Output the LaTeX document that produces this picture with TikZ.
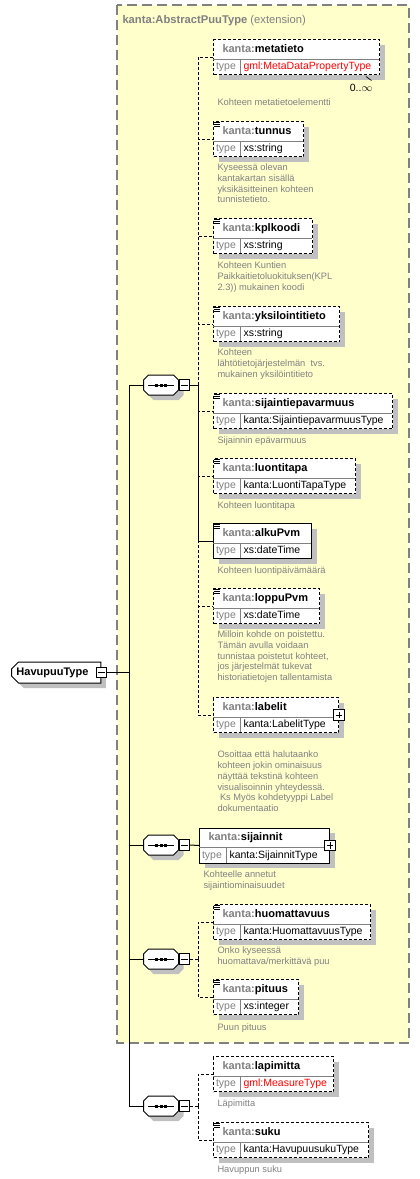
\documentclass[tikz,border=0pt]{standalone}
\usepackage{fontspec}
\setmainfont{Liberation Sans}
\usepackage{tikz}
\usetikzlibrary{shapes.misc, shadows}
\definecolor{extFill}{RGB}{255,255,204}
\definecolor{extLine}{RGB}{128,128,128}
\definecolor{shadeGray}{RGB}{192,192,192}
\definecolor{txtGray}{RGB}{128,128,128}

\begin{document}
\begin{tikzpicture}[x=1pt, y=-1pt, line width=1pt,
    optline/.style={dash pattern=on 3pt off 2pt},
    boxshadow/.style={drop shadow={shadow xshift=5pt, shadow yshift=-5pt, fill=shadeGray, opacity=1}},
    reqbox/.style={draw, fill=white, anchor=north west, minimum height=35pt, inner sep=0pt, boxshadow},
    optbox/.style={reqbox, optline},
    divline/.style={draw=txtGray, solid, line width=0.8pt},
    namelbl/.style={anchor=base west, inner sep=0pt, font=\fontsize{11}{13}\selectfont\bfseries},
    typelbl/.style={anchor=base west, inner sep=0pt, font=\fontsize{10.5}{12}\selectfont},
    doclbl/.style={anchor=north west, inner sep=0pt, align=left, text=txtGray,
        font=\fontsize{9.3}{10.75}\selectfont, execute at begin node=\strut},
    seqarea/.style={minimum width=34pt, minimum height=19pt, inner sep=0pt},
    minusbox/.style={draw, fill=white, solid, minimum size=10.5pt, inner sep=0pt,
        path picture={\draw[line width=0.8pt] ([xshift=2pt]path picture bounding box.west) -- ([xshift=-2pt]path picture bounding box.east);}},
    plusbox/.style={draw, fill=white, solid, minimum size=10.5pt, inner sep=0pt,
        path picture={\draw[line width=0.8pt] ([xshift=2pt]path picture bounding box.west) -- ([xshift=-2pt]path picture bounding box.east)
            ([yshift=-2pt]path picture bounding box.north) -- ([yshift=2pt]path picture bounding box.south);}},
    hvtype/.style={chamfered rectangle, chamfered rectangle corners={north west, south west},
        chamfered rectangle xsep=3.5pt, draw, fill=white, anchor=west,
        minimum height=21pt, inner sep=0pt, boxshadow, font=\fontsize{11}{13}\selectfont\bfseries}
]

\useasboundingbox (0,0) rectangle (420,1179);

% Extension frame
\filldraw[fill=extFill, draw=extLine, line width=1.3pt, dash pattern=on 10pt off 5pt]
    (117,5) rectangle (409,1043);
\node[anchor=base west, inner sep=0pt, text=txtGray, font=\fontsize{11.2}{13}\selectfont] (exttitle)
    at (122,23) {\textbf{kanta:AbstractPuuType} (extension)};

% Complex type
\node[hvtype] (hv) at (11,672.5) {\hspace*{1.5pt}HavupuuType\hspace*{9pt}};
\node[minusbox] (hvm) at (hv.east) {};

% Sequences
\foreach \s/\y in {s1/385, s2/845, s3/959, s4/1106} {
    \node[seqarea] (\s) at (161,\y) {};
    \filldraw[fill=white, boxshadow]
        ([xshift=5pt]\s.north west) -- ([xshift=-5pt]\s.north east) -- ([yshift=-5pt]\s.north east)
        -- ([yshift=5pt]\s.south east) -- ([xshift=-5pt]\s.south east) -- ([xshift=5pt]\s.south west)
        -- ([yshift=5pt]\s.south west) -- ([yshift=-5pt]\s.north west) -- cycle;
    \draw ([xshift=4.5pt]\s.west) -- ([xshift=-4.5pt]\s.east);
    \foreach \d in {-4.5,0,4.5}
        \fill ([xshift=\d pt]\s.center) +(-1.5,-1.5) rectangle +(1.5,1.5);
    \node[minusbox, anchor=west] (\s m) at (\s.east) {};
}

% Elements
\foreach \nm/\x/\y/\w/\ty/\tc/\st/\db/\dc in {
    metatieto/213/39/166/gml:MetaDataPropertyType/red/optbox/66/{Kohteen metatietoelementti},
    tunnus/213/121/90/xs:string/black/optbox/50/{Kyseessä olevan\\kantakartan sisällä\\yksikäsitteinen kohteen\\tunnistetieto.},
    kplkoodi/213/218/99/xs:string/black/optbox/51/{Kohteen Kuntien\\Paikkaitietoluokituksen(KPL\\2.3)) mukainen koodi},
    yksilointitieto/213/306/126/xs:string/black/optbox/50/{Kohteen\\lähtötietojärjestelmän\ \ tvs.\\mukainen yksilöintitieto},
    sijaintiepavarmuus/213/393/179/kanta:SijaintiepavarmuusType/black/optbox/50/{Sijainnin epävarmuus},
    luontitapa/213/458/142/kanta:LuontiTapaType/black/optbox/50/{Kohteen luontitapa},
    alkuPvm/213/523/98/xs:dateTime/black/reqbox/50/{Kohteen luontipäivämäärä},
    loppuPvm/213/588/106/xs:dateTime/black/optbox/50/{Milloin kohde on poistettu.\\Tämän avulla voidaan\\tunnistaa poistetut kohteet,\\jos järjestelmät tukevat\\historiatietojen tallentamista},
    labelit/213/697/125/kanta:LabelitType/black/optbox/61/{Osoittaa että halutaanko\\kohteen jokin ominaisuus\\näyttää tekstinä kohteen\\visualisoinnin yhteydessä.\\\hspace*{2.5pt}Ks Myös kohdetyyppi Label\\dokumentaatio},
    sijainnit/199/827.5/130/kanta:SijainnitType/black/reqbox/50/{Kohteelle annetut\\sijaintiominaisuudet},
    huomattavuus/213/904/157/kanta:HuomattavuusType/black/optbox/50/{Onko kyseessä\\huomattava/merkittävä puu},
    pituus/213/979/85/xs:integer/black/optbox/51/{Puun pituus},
    lapimitta/213/1056/120/gml:MeasureType/red/optbox/50/{Läpimitta},
    suku/213/1122/155/kanta:HavupuusukuType/black/optbox/50/{Havuppun suku}} {
    \node[\st, minimum width=\w pt] (\nm) at (\x,\y) {};
    \draw[divline] (\x,\y+20) -- (\x+\w,\y+20) (\x+27,\y+20) -- (\x+27,\y+35);
    \node[namelbl] (\nm-nm) at (\x+9,\y+13) {\textcolor{txtGray}{kanta:}\nm};
    \node[typelbl, text=txtGray] (\nm-tl) at (\x+2.5,\y+30.5) {type};
    \node[typelbl, text=\tc] (\nm-ty) at (\x+30,\y+30.5) {\ty};
    \node[doclbl] (\nm-doc) at (\x+4,\y+\db-7.5) {\dc};
}

% Annotation icons
\foreach \nm in {tunnus,kplkoodi,yksilointitieto,sijaintiepavarmuus,luontitapa,alkuPvm,loppuPvm,huomattavuus,pituus,suku}
    \draw[line width=0.6pt] ([shift={(1.3,1.5)}]\nm.north west) -- +(5.7,0)
        ([shift={(1.3,3.3)}]\nm.north west) -- +(5.7,0)
        ([shift={(1.3,5.1)}]\nm.north west) -- +(5.7,0);

% Expandable types
\foreach \nm in {labelit, sijainnit}
    \node[plusbox] (\nm-plus) at (\nm.east) {};

% Occurrence
\draw[line width=0.7pt] (366,76.5) -- (371.5,80.5);
\node[typelbl, anchor=base east] (metamult) at (373,91) {0..$\infty$};

% Connectors
\coordinate (j0) at (129,672.5);
\draw (hvm.east) -- (j0);
\foreach \s in {s1,s2,s3,s4}
    \draw (j0) |- (\s.west);

\coordinate (j1) at (198,385);
\draw (s1m.east) -- (j1);
\foreach \nm in {metatieto,tunnus,kplkoodi,yksilointitieto,sijaintiepavarmuus,luontitapa,loppuPvm,labelit}
    \draw[optline] (j1) |- (\nm.west);
\draw (j1) |- (alkuPvm.west);

\draw (s2m.east) -- (sijainnit.west);

\coordinate (j3) at (198,959);
\draw[optline] (s3m.east) -- (j3);
\foreach \nm in {huomattavuus,pituus}
    \draw[optline] (j3) |- (\nm.west);

\coordinate (j4) at (198,1106);
\draw[optline] (s4m.east) -- (j4);
\foreach \nm in {lapimitta,suku}
    \draw[optline] (j4) |- (\nm.west);

\end{tikzpicture}
\end{document}
